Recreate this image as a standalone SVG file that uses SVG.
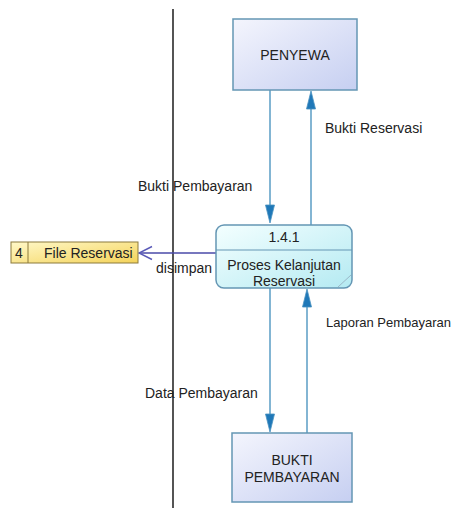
<svg xmlns="http://www.w3.org/2000/svg" width="459" height="508" viewBox="0 0 459 508">
  <defs>
    <linearGradient id="gEnt" x1="0" y1="0" x2="1" y2="1">
      <stop offset="0" stop-color="#f4f5fd"/>
      <stop offset="1" stop-color="#c6cff1"/>
    </linearGradient>
    <linearGradient id="gProc" x1="0" y1="0" x2="1" y2="1">
      <stop offset="0" stop-color="#f4ffff"/>
      <stop offset="1" stop-color="#b4eaf2"/>
    </linearGradient>
    <linearGradient id="gStore" x1="0" y1="0" x2="1" y2="1">
      <stop offset="0" stop-color="#fff8c8"/>
      <stop offset="1" stop-color="#f4d35a"/>
    </linearGradient>
  </defs>
  <style>
    text { font-family: "Liberation Sans", Arial, sans-serif; font-size: 14px; fill: #222; }
    .ent { fill: url(#gEnt); stroke: #6496b4; stroke-width: 1.5; }
    .proc { fill: url(#gProc); stroke: #6496b4; stroke-width: 1.5; }
    .store { fill: url(#gStore); stroke: #8c7a3c; stroke-width: 1; }
    .flow { stroke: #5a9dc4; stroke-width: 1.5; fill: none; }
    .head { fill: #1f78b8; stroke: #4a92c0; stroke-width: 0.8; }
    .mid { text-anchor: middle; }
  </style>

  <line x1="173" y1="9" x2="173" y2="508" stroke="#2a2a2a" stroke-width="1.6"/>

  <g id="connectors">
    <!-- PENYEWA -> process -->
    <line class="flow" x1="270" y1="90" x2="270" y2="210"/>
    <path class="head" d="M270,223 L265.5,205 L274.5,205 Z"/>
    <!-- process -> PENYEWA -->
    <line class="flow" x1="311" y1="225" x2="311" y2="104"/>
    <path class="head" d="M311,91 L306.5,109 L315.5,109 Z"/>
    <!-- process -> BUKTI -->
    <line class="flow" x1="270" y1="288" x2="270" y2="420"/>
    <path class="head" d="M270,432 L265.5,414 L274.5,414 Z"/>
    <!-- BUKTI -> process -->
    <line class="flow" x1="307" y1="433" x2="307" y2="302"/>
    <path class="head" d="M307,289 L302.5,307 L311.5,307 Z"/>
    <!-- process -> File Reservasi -->
    <line x1="216" y1="253" x2="139" y2="253" stroke="#4a4aa8" stroke-width="1.4"/>
    <path d="M152,246.5 L139,253 L152,259.5" fill="none" stroke="#5a5ab8" stroke-width="1.4"/>
  </g>

  <g id="labels">
    <text x="325" y="133">Bukti Reservasi</text>
    <text x="138" y="191">Bukti Pembayaran</text>
    <text x="156" y="273">disimpan</text>
    <text x="326" y="327" style="font-size:13px">Laporan Pembayaran</text>
    <text x="145" y="398">Data Pembayaran</text>
  </g>

  <g id="penyewa">
    <rect class="ent" x="233" y="19" width="124" height="71"/>
    <text class="mid" x="295" y="60">PENYEWA</text>
  </g>

  <g id="proses">
    <rect class="proc" x="216" y="225" width="136" height="63" rx="8" ry="8"/>
    <line x1="216" y1="250" x2="352" y2="250" stroke="#6496b4" stroke-width="1"/>
    <line x1="338" y1="287" x2="351" y2="275" stroke="#9ab8c8" stroke-width="1"/>
    <text class="mid" x="284" y="242">1.4.1</text>
    <text class="mid" x="284" y="270">Proses Kelanjutan</text>
    <text class="mid" x="284" y="286">Reservasi</text>
  </g>

  <g id="file-reservasi">
    <rect class="store" x="11" y="242" width="127" height="21"/>
    <line x1="28" y1="242" x2="28" y2="263" stroke="#8c7a3c" stroke-width="1"/>
    <text x="15" y="258">4</text>
    <text x="44" y="258">File Reservasi</text>
  </g>

  <g id="bukti-pembayaran">
    <rect class="ent" x="232" y="433" width="120" height="69"/>
    <text class="mid" x="292" y="465">BUKTI</text>
    <text class="mid" x="292" y="482">PEMBAYARAN</text>
  </g>
</svg>
